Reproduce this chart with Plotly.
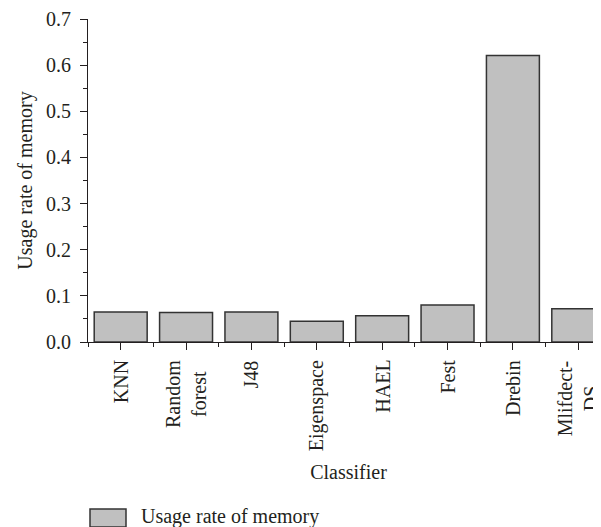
import plotly.graph_objects as go

categories = ["KNN", "Random<br>forest", "J48", "Eigenspace", "HAEL", "Fest", "Drebin", "Mlifdect-<br>DS"]
memory_usage = [0.065, 0.064, 0.065, 0.045, 0.057, 0.080, 0.621, 0.072]
y_ticks = [0.0, 0.1, 0.2, 0.3, 0.4, 0.5, 0.6, 0.7]
series_name = "Usage rate of memory"
x_title = "Classifier"
y_title = "Usage rate of memory"

FONT = "Liberation Serif, Times New Roman, serif"
TXT = "#231F20"
x_pos = list(range(len(categories)))

fig = go.Figure()
fig.add_trace(go.Bar(
    x=x_pos, y=memory_usage, name=series_name,
    marker=dict(color="#C0C0C0", line=dict(color="#333333", width=1.5)),
    showlegend=False,
))

fig.update_layout(
    width=601, height=527,
    margin=dict(l=80, r=0, t=11, b=193),
    plot_bgcolor="white", paper_bgcolor="white",
    font=dict(family=FONT, size=20, color=TXT),
    bargap=0.19,
    xaxis=dict(
        range=[-0.5, 7.47], tickmode="array", tickvals=x_pos, ticktext=categories,
        showticklabels=False,
        ticks="outside", ticklen=7, tickwidth=1, tickcolor="#231F20",
        showline=True, linecolor="#231F20", linewidth=1, showgrid=False, zeroline=False,
        minor=dict(tick0=-0.5, dtick=1, ticks="outside", ticklen=4, tickcolor="#231F20", showgrid=False),
        title=dict(text=x_title, standoff=115, font=dict(size=20)),
        automargin=False,
    ),
    yaxis=dict(
        range=[0, 0.7], tickvals=y_ticks, tickformat=".1f",
        ticks="outside", ticklen=7, tickwidth=1, tickcolor="#231F20",
        showline=True, linecolor="#231F20", linewidth=1, showgrid=False, zeroline=False,
        minor=dict(dtick=0.05, ticks="outside", ticklen=4, tickcolor="#231F20", showgrid=False),
        ticklabelstandoff=5,
        title=dict(text=y_title, standoff=8, font=dict(size=20)),
        automargin=False,
    ),
)

# category tick labels (rotated, lines centred on each other)
for xi, label in zip(x_pos, categories):
    fig.add_annotation(x=xi, xref="x", y=0, yref="paper", text=label,
                       textangle=-90, showarrow=False, xanchor="center", yanchor="top",
                       yshift=-17, align="center", borderpad=0,
                       font=dict(size=20, family=FONT, color=TXT))

# legend swatch and label
fig.add_shape(type="rect", xref="paper", yref="paper",
              x0=(82 - 80) / 521, x1=(118 - 80) / 521,
              y0=(334 - 501) / 323, y1=(334 - 519) / 323,
              fillcolor="#C0C0C0", line=dict(color="#333333", width=1.5))
fig.add_annotation(xref="paper", yref="paper", x=(132 - 80) / 521, y=(334 - 508) / 323,
                   text=series_name, showarrow=False, xanchor="left", yanchor="middle",
                   borderpad=0, font=dict(size=20, family=FONT, color=TXT))

fig.write_html("out.html")
